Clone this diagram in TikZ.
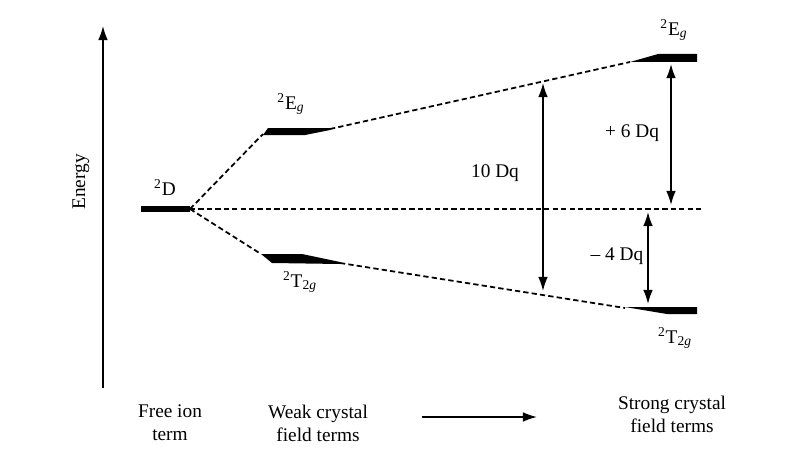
\documentclass[tikz,border=0pt]{standalone}
\usepackage{fontspec}
\setmainfont{Liberation Serif}
\usetikzlibrary{arrows.meta}
\newcommand{\Eg}{\textsuperscript{2}E\textsubscript{\textit{g}}}
\newcommand{\Ttg}{\textsuperscript{2}T\textsubscript{2\textit{g}}}

\begin{document}
\begin{tikzpicture}[x=0.02cm, y=-0.02cm, every node/.style={font=\fontsize{11}{13}\selectfont},
    level/.style={fill=black}, link/.style={dash pattern=on 3pt off 1.8pt, line width=1pt},
    gap/.style={{Latex[length=8pt,width=5.5pt]}-{Latex[length=8pt,width=5.5pt]}, line width=0.9pt}]
\useasboundingbox (0,0) rectangle (793,466);
% Eixo de energia
\coordinate (A0) at (103,388);
\coordinate (A1) at (103,26);
\draw[-{Latex[length=8pt,width=5.5pt]}, line width=0.9pt] (A0) -- (A1);
\node[rotate=90] (energy) at (81,182) {Energy};
% Niveis
\fill[level] (141,206) rectangle (190,212);
\fill[level] (263,135) -- (268,128) -- (330,128) -- (330,130) -- (305,135) -- cycle;
\fill[level] (261,254) -- (302,254) -- (340,262) -- (340,264) -- (272,263) -- cycle;
\fill[level] (630,62) -- (658,54) -- (697,54) -- (697,62) -- cycle;
\fill[level] (625,307) -- (697,307) -- (697,314) -- (667,314) -- cycle;
\coordinate (D) at (190,209);
\coordinate (EwL) at (263,134);
\coordinate (EwR) at (330,129);
\coordinate (TwL) at (261,254);
\coordinate (TwR) at (340,263);
\coordinate (EsL) at (630,62);
\coordinate (TsL) at (625,308);
\coordinate (H) at (703,209);
\node (lD) at (165,188) {\textsuperscript{2}D};
\node (lEw) at (291,104) {\Eg};
\node (lTw) at (300,282) {\Ttg};
\node (lEs) at (674,30) {\Eg};
\node (lTs) at (675,338) {\Ttg};
% Conexoes
\draw[link] (D) -- (EwL);
\draw[link] (D) -- (TwL);
\draw[link] (D) -- (H);
\draw[link] (EwR) -- (EsL);
\draw[link] (TwR) -- (TsL);
% Separacoes
\coordinate (P1) at (543,83);
\coordinate (P2) at (543,291);
\coordinate (Q1) at (671,64);
\coordinate (Q2) at (671,205);
\coordinate (R1) at (648,212);
\coordinate (R2) at (648,304);
\draw[gap] (P1) -- (P2);
\draw[gap] (Q1) -- (Q2);
\draw[gap] (R1) -- (R2);
\node (dq10) at (495,173) {10 Dq};
\node (dq6) at (632,133) {+ 6 Dq};
\node (dq4) at (617,256) {-- 4 Dq};
% Legendas
\node[align=center] (free) at (170,423) {Free ion\\term};
\node[align=center] (weak) at (318,423) {Weak crystal\\field terms};
\node[align=center] (strong) at (672,414) {Strong crystal\\field terms};
\coordinate (S0) at (422,417);
\coordinate (S1) at (537,417);
\draw[-{Latex[length=8pt,width=5.5pt]}, line width=0.9pt] (S0) -- (S1);
\end{tikzpicture}
\end{document}
